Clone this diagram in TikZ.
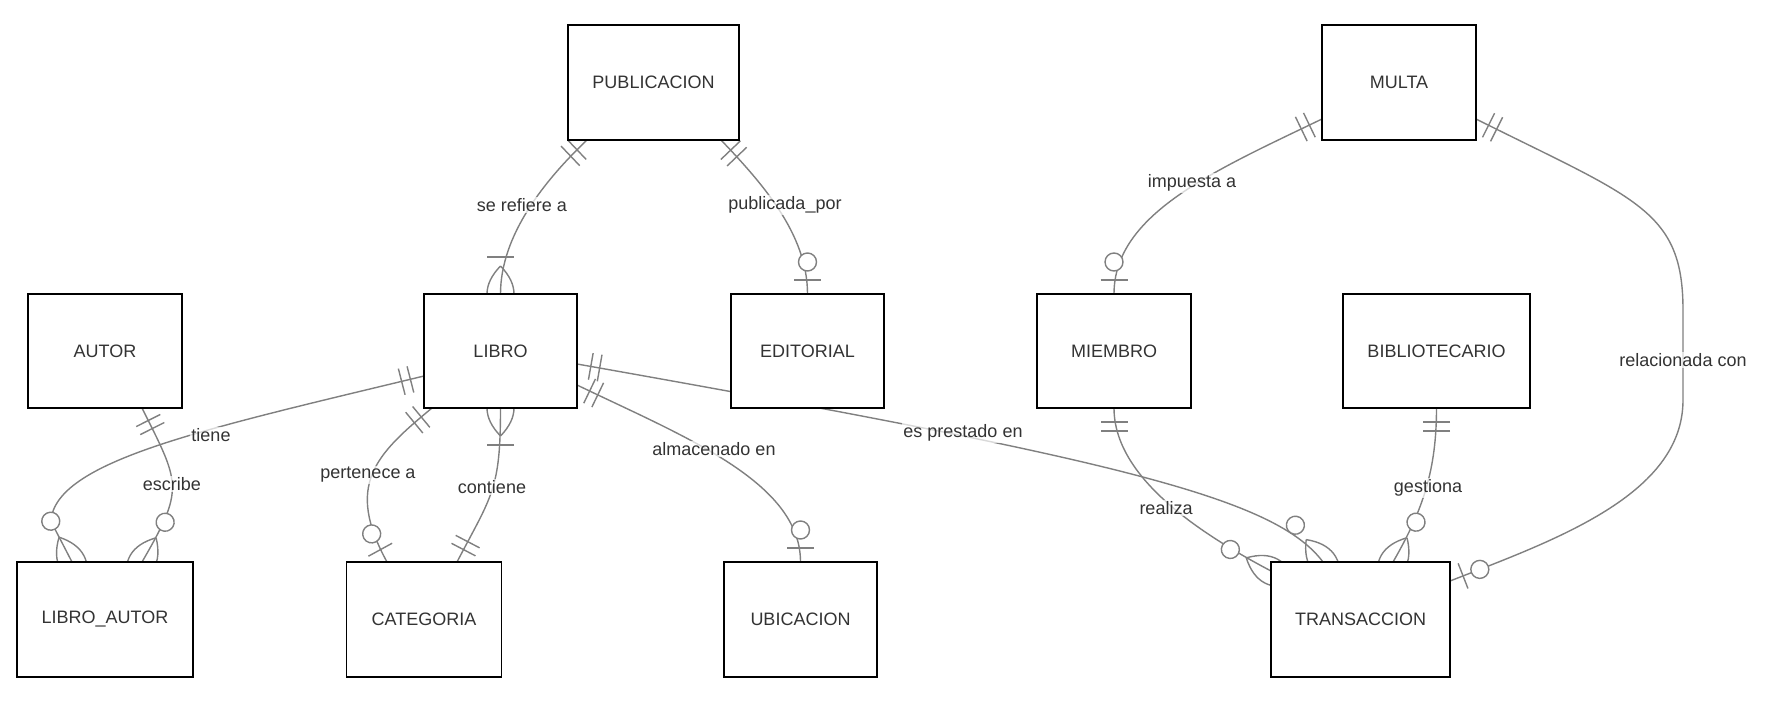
\documentclass[tikz,border=0pt]{standalone}
\usepackage{fontspec}
\setmainfont{Liberation Sans}
\usetikzlibrary{calc}
\definecolor{lineg}{RGB}{128,128,128}
\definecolor{txt}{RGB}{51,51,51}
\pgfdeclarelayer{bg}
\pgfsetlayers{bg,main}
\tikzset{
  rel/.style={draw=lineg, line width=1.4pt},
  ent/.style={draw=black, line width=1.8pt, fill=white, outer sep=0pt, inner sep=0pt,
    minimum height=114, text=txt, font=\fontsize{18}{22}\selectfont},
  lbl/.style={fill=white, fill opacity=0.7, text opacity=1, text=txt, inner sep=1.5pt,
    font=\fontsize{18}{22}\selectfont}
}
\newcommand\mkOne[2]{\begin{scope}[shift={(#1)},rotate=#2]\draw[rel] (14,-13.5)--(14,13.5) (23,-13.5)--(23,13.5);\end{scope}}
\newcommand\mkZeroOne[2]{\begin{scope}[shift={(#1)},rotate=#2]\draw[rel] (14,-13.5)--(14,13.5);\draw[rel,fill=white] (32,0) circle[radius=9];\end{scope}}
\newcommand\mkLens{\draw[rel] (28,0) .. controls (18.67,9) and (9.33,13.5) .. (0,13.5) .. controls (-9.33,13.5) and (-18.67,9) .. (-28,0) .. controls (-18.67,-9) and (-9.33,-13.5) .. (0,-13.5) .. controls (9.33,-13.5) and (18.67,-9) .. (28,0);}
\newcommand\mkOneMany[2]{\begin{scope}[shift={(#1)},rotate=#2]\mkLens\draw[rel] (37,-13.5)--(37,13.5);\end{scope}}
\newcommand\mkZeroMany[2]{\begin{scope}[shift={(#1)},rotate=#2]\mkLens\draw[rel,fill=white] (46,0) circle[radius=9];\end{scope}}
\begin{document}
\begin{tikzpicture}[x=1pt,y=-1pt]
\useasboundingbox (0,0) rectangle (1770,703);
% entities
\node[ent, minimum width=171, minimum height=115] (pub) at (653.5,82.5) {PUBLICACION};
\node[ent, minimum width=154, minimum height=115] (multa) at (1399,82.5) {MULTA};
\node[ent, minimum width=154] (autor) at (105,351) {AUTOR};
\node[ent, minimum width=153] (libro) at (500.5,351) {LIBRO};
\node[ent, minimum width=153] (editorial) at (807.5,351) {EDITORIAL};
\node[ent, minimum width=154] (miembro) at (1114,351) {MIEMBRO};
\node[ent, minimum width=187] (biblio) at (1436.5,351) {BIBLIOTECARIO};
\node[ent, minimum width=176, minimum height=115] (la) at (105,619.5) {LIBRO\_AUTOR};
\node[ent, minimum width=155, minimum height=115] (cat) at (424,619.5) {CATEGORIA};
\node[ent, minimum width=153, minimum height=115] (ubic) at (800.5,619.5) {UBICACION};
\node[ent, minimum width=179, minimum height=115] (trans) at (1360.5,619.5) {TRANSACCION};
% end points
\coordinate (a1) at ($(pub.south)+(-66.5,0)$);
\coordinate (a2) at ($(pub.south)+(67.5,0)$);
\coordinate (a3) at ($(libro.west)+(0,25)$);
\coordinate (b3) at ($(la.north)+(-33,0)$);
\coordinate (q3) at ($(b3)+(-21.2,-40.9)$);
\coordinate (a4) at ($(autor.south)+(37,0)$);
\coordinate (b4) at ($(la.north)+(37,0)$);
\coordinate (a5) at ($(libro.south)+(-68.5,0)$);
\coordinate (b5) at ($(cat.north)+(-37,0)$);
\coordinate (b6) at ($(cat.north)+(33,0)$);
\coordinate (a7) at ($(libro.east)+(0,34)$);
\coordinate (a8) at ($(libro.east)+(0,13)$);
\coordinate (b8) at ($(trans.north)+(-37.5,0)$);
\coordinate (a9) at ($(multa.west)+(0,36.5)$);
\coordinate (a10) at ($(multa.east)+(0,36.5)$);
\coordinate (m10) at (1683,360);
\coordinate (u10) at (1683,310);
\coordinate (v10) at (1683,400);
\coordinate (b10) at ($(trans.east)+(0,-38.5)$);
\coordinate (b11) at ($(trans.west)+(0,-48.5)$);
\coordinate (b12) at ($(trans.north)+(32.5,0)$);
\begin{pgfonlayer}{bg}
\fill[white] (0,0) rectangle (1770,703);
% se refiere a
\draw[rel] (a1) .. controls +(-42,40) and +(0,-59) .. (libro.north);
\mkOne{a1}{223.6}
\mkOneMany{libro.north}{90}
% publicada_por
\draw[rel] (a2) .. controls +(41,43) and +(0,-60) .. (editorial.north);
\mkOne{a2}{-46.4}
\mkZeroOne{editorial.north}{90}
% tiene
\draw[rel] (a3) .. controls +(-224,54) and +(5,-60) .. (q3) -- (b3);
\mkOne{a3}{194.4}
\mkZeroMany{b3}{117.5}
% escribe
\draw[rel] (a4) .. controls +(38,76) and +(43,-74) .. (b4);
\mkOne{a4}{-63.4}
\mkZeroMany{b4}{59.8}
% pertenece a
\draw[rel] (a5) .. controls +(-57,47) and +(-42,-77) .. (b5);
\mkOne{a5}{-140.5}
\mkZeroOne{b5}{118.6}
% contiene
\draw[rel] (libro.south) .. controls +(0,82) and +(35,-67) .. (b6);
\mkOneMany{libro.south}{-90}
\mkOne{b6}{62.4}
% almacenado en
\draw[rel] (a7) .. controls +(108,52) and +(0,-80) .. (ubic.north);
\mkOne{a7}{-25.7}
\mkZeroOne{ubic.north}{90}
% es prestado en
\draw[rel] (a8) .. controls +(542,96) and +(-48,-64) .. (b8);
\mkOne{a8}{-10}
\mkZeroMany{b8}{126.9}
% impuesta a
\draw[rel] (a9) .. controls +(-108,52) and +(0,-80) .. (miembro.north);
\mkOne{a9}{205.7}
\mkZeroOne{miembro.north}{90}
% relacionada con
\draw[rel] (a10) .. controls +(160,80) and +(0,-100) .. (u10) -- (v10) .. controls +(0,95) and +(105,-41) .. (b10);
\mkOne{a10}{-26.6}
\mkZeroOne{b10}{21.3}
% realiza
\draw[rel] (miembro.south) .. controls +(0,70) and +(-70,-37) .. (b11);
\mkOne{miembro.south}{-90}
\mkZeroMany{b11}{152.1}
% gestiona
\draw[rel] (biblio.south) .. controls +(0,62) and +(30,-52) .. (b12);
\mkOne{biblio.south}{-90}
\mkZeroMany{b12}{60}
\end{pgfonlayer}
% labels
\node[lbl] (l1) at (522,205) {se refiere a};
\node[lbl] (l2) at (785,205) {publicada\_por};
\node[lbl] (l3) at (211,435) {tiene};
\node[lbl] (l4) at (172,484) {escribe};
\node[lbl] (l5) at (368,475) {pertenece a};
\node[lbl] (l6) at (492,487) {contiene};
\node[lbl] (l7) at (714,449) {almacenado en};
\node[lbl] (l8) at (963,433) {es prestado en};
\node[lbl] (l9) at (1192,183) {impuesta a};
\node[lbl] (l10) at (m10) {relacionada con};
\node[lbl] (l11) at (1166,508) {realiza};
\node[lbl] (l12) at (1428,488) {gestiona};
\end{tikzpicture}
\end{document}
